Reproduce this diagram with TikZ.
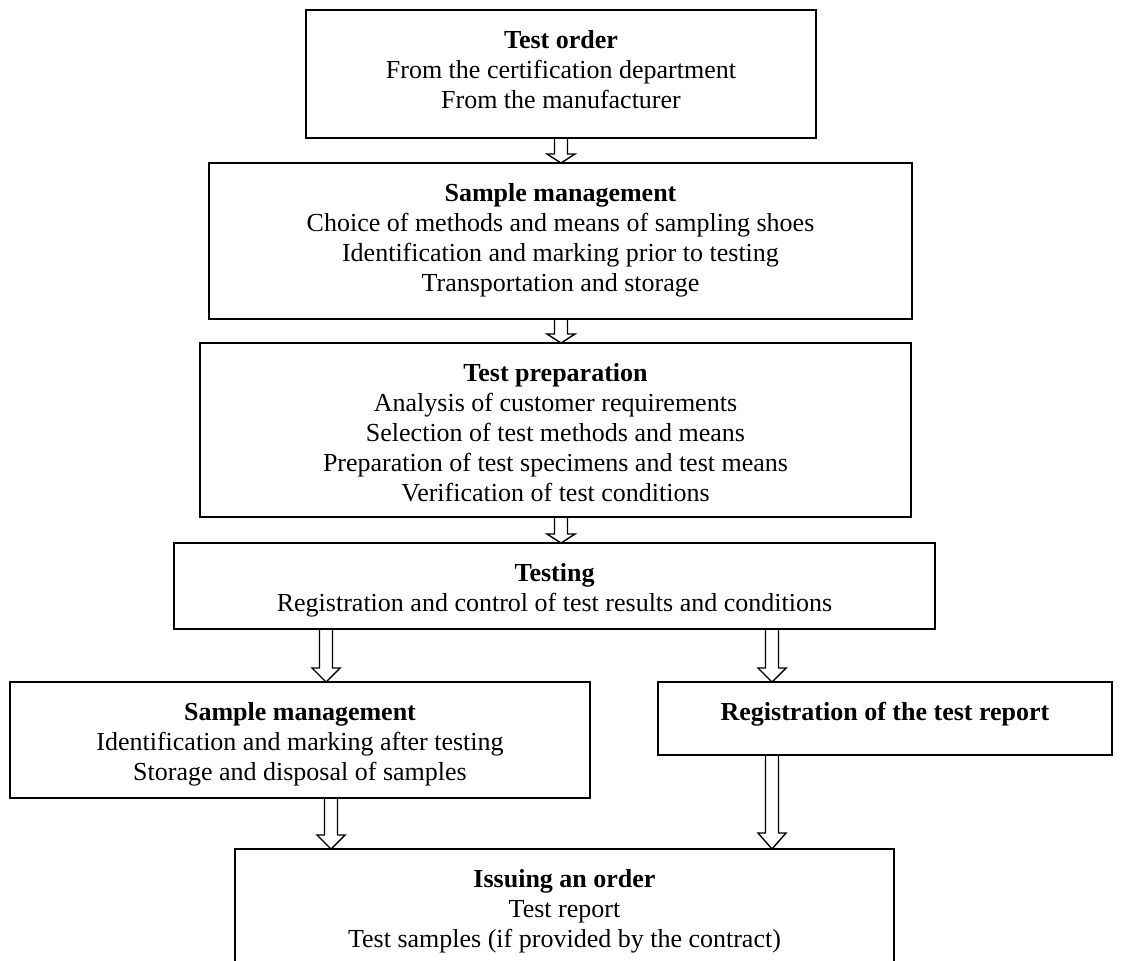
\documentclass[tikz,border=0pt]{standalone}
\usepackage{fontspec}
\setmainfont{Liberation Serif}
\usetikzlibrary{positioning,calc}
\tikzset{
  box/.style={draw, line width=1.7pt, outer sep=0pt, inner sep=0pt, anchor=north west},
  txt/.style={align=center, inner sep=0pt, anchor=north, font=\fontsize{26pt}{30pt}\selectfont},
  hollow/.style={line width=1.4pt, to path={let \p1=(\tikztostart), \p2=(\tikztotarget) in
    (\x1-6.5pt,\y1) -- (\x1-6.5pt,\y2+#1) -- (\x1-14pt,\y2+#1) -- (\x1,\y2)
    -- (\x1+14pt,\y2+#1) -- (\x1+6.5pt,\y2+#1) -- (\x1+6.5pt,\y1)}},
  hollow/.default=14pt
}
\begin{document}
\begin{tikzpicture}[x=1pt,y=1pt]
\useasboundingbox (0,0) rectangle (1123,-960);
\clip (0,0) rectangle (1123,-960);
% boxes
\node[box, minimum width=510pt, minimum height=128pt] (order) at (306,-10) {};
\node[txt, below=20pt of order.north] (ordertext) {\textbf{Test order}\\From the certification department\\From the manufacturer};
\node[box, minimum width=703pt, minimum height=156pt] (samplein) at (209,-163) {};
\node[txt, below=20pt of samplein.north] (sampleintext) {\textbf{Sample management}\\Choice of methods and means of sampling shoes\\Identification and marking prior to testing\\Transportation and storage};
\node[box, minimum width=711pt, minimum height=174pt] (prep) at (200,-343) {};
\node[txt, below=20pt of prep.north] (preptext) {\textbf{Test preparation}\\Analysis of customer requirements\\Selection of test methods and means\\Preparation of test specimens and test means\\Verification of test conditions};
\node[box, minimum width=761pt, minimum height=86pt] (testing) at (174,-543) {};
\node[txt, below=20pt of testing.north] (testingtext) {\textbf{Testing}\\Registration and control of test results and conditions};
\node[box, minimum width=580pt, minimum height=116pt] (sampleout) at (10,-682) {};
\node[txt, below=20pt of sampleout.north] (sampleouttext) {\textbf{Sample management}\\Identification and marking after testing\\Storage and disposal of samples};
\node[box, minimum width=454pt, minimum height=73pt] (report) at (658,-682) {};
\node[txt, below=20pt of report.north] (reporttext) {\textbf{Registration of the test report}};
\node[box, minimum width=659pt, minimum height=141pt] (issue) at (235,-849) {};
\node[txt, below=20pt of issue.north] (issuetext) {\textbf{Issuing an order}\\Test report\\Test samples (if provided by the contract)};
% arrows
\coordinate (mid) at (561,0);
\coordinate (leftup) at (326,0);
\coordinate (leftdown) at (331,0);
\coordinate (right) at (772,0);
\draw[hollow=9pt] (order.south -| mid) to (samplein.north -| mid);
\draw[hollow=9pt] (samplein.south -| mid) to (prep.north -| mid);
\draw[hollow=9pt] (prep.south -| mid) to (testing.north -| mid);
\draw[hollow] (testing.south -| leftup) to (sampleout.north -| leftup);
\draw[hollow] (testing.south -| right) to (report.north -| right);
\draw[hollow] (sampleout.south -| leftdown) to (issue.north -| leftdown);
\draw[hollow=16pt] (report.south -| right) to (issue.north -| right);
\end{tikzpicture}
\end{document}
